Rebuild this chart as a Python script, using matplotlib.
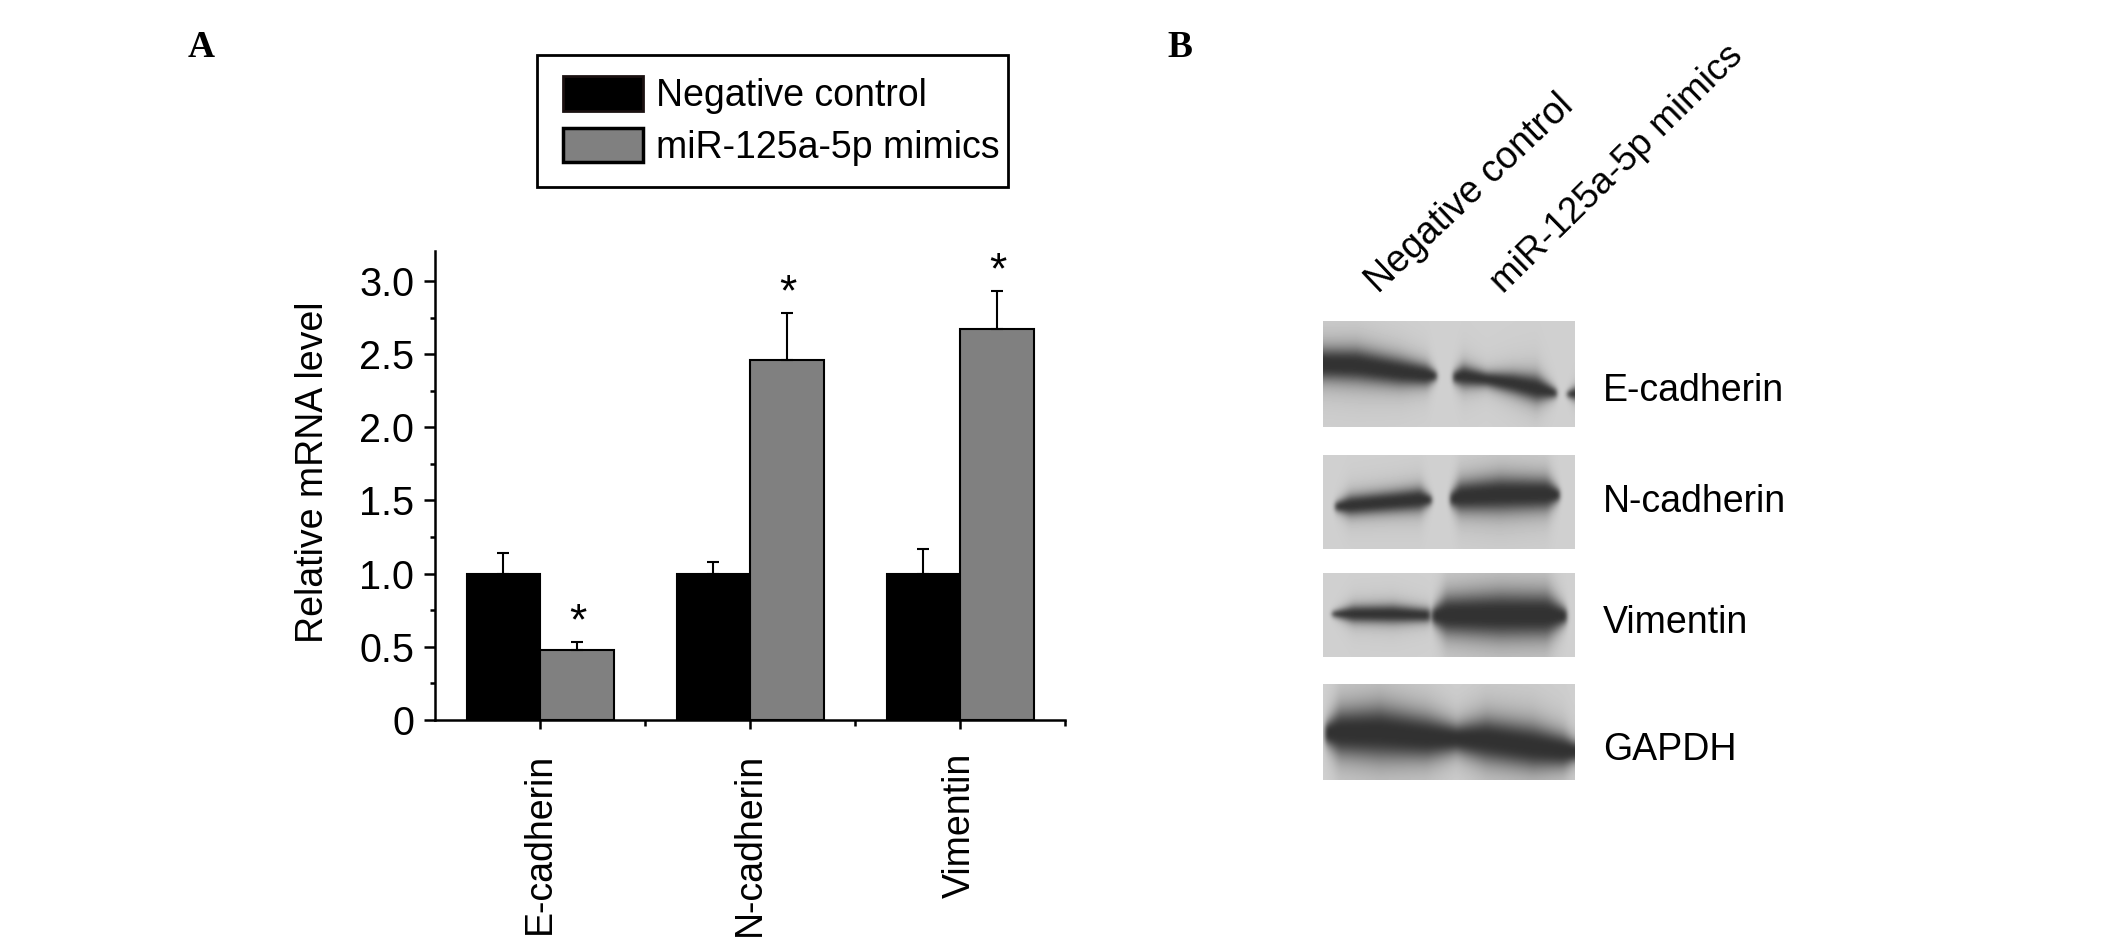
import numpy as np
import matplotlib
matplotlib.use("Agg")
import matplotlib.pyplot as plt
from matplotlib.patches import Patch, Rectangle

plt.rcParams['font.family'] = ['Liberation Sans', 'DejaVu Sans']

W, H = 2126, 947

# Panel A data
genes = ["E-cadherin", "N-cadherin", "Vimentin"]
control_vals = [1.0, 1.0, 1.0]
control_err = [0.14, 0.08, 0.17]
mimic_vals = [0.48, 2.46, 2.67]
mimic_err = [0.05, 0.32, 0.26]
y_ticks = [0, 0.5, 1.0, 1.5, 2.0, 2.5, 3.0]
y_labels = ["0", "0.5", "1.0", "1.5", "2.0", "2.5", "3.0"]
legend_labels = ["Negative control", "miR-125a-5p mimics"]

# Panel B labels
lane_labels = ["Negative control", "miR-125a-5p mimics"]
blot_labels = ["E-cadherin", "N-cadherin", "Vimentin", "GAPDH"]
blot_label_y = [391, 502, 623, 750]

# band outlines per blot as (x, centre y, half thickness) in pixels
ecad_bands = [
    [(-10, 195, 34), (60, 192, 36), (170, 195, 38), (300, 215, 32), (380, 225, 24), (410, 228, 8)],
    [(458, 232, 10), (490, 228, 24), (560, 238, 16), (640, 250, 24), (710, 265, 30), (770, 280, 8)],
    [(800, 283, 4), (835, 280, 18)],
]
ncad_bands = [
    [(105, 620, 8), (150, 616, 22), (280, 605, 24), (360, 598, 26), (395, 600, 8)],
    [(450, 598, 12), (480, 590, 34), (600, 583, 40), (740, 582, 36), (780, 585, 10)],
]
vim_bands = [
    [(95, 942, 4), (160, 942, 18), (280, 942, 20), (390, 946, 14)],
    [(395, 948, 14), (440, 945, 44), (600, 945, 52), (740, 945, 50), (800, 948, 14)],
]
gapdh_bands = [
    [(75, 1300, 20), (120, 1298, 52), (240, 1298, 60), (380, 1312, 50), (470, 1316, 32),
     (560, 1320, 50), (700, 1340, 50), (790, 1352, 38), (830, 1355, 20)],
]
blot_bands = [ecad_bands, ncad_bands, vim_bands, gapdh_bands]
blot_tops = [321, 455, 573, 684]
blot_bottoms = [427, 549, 657, 780]
blot_left, blot_right = 1323, 1575


def px_axes(x0, y0, x1, y1):
    return [x0 / W, 1 - y1 / H, (x1 - x0) / W, (y1 - y0) / H]


def render_blot(bands, top, bottom):
    # zoom crop started at (1300, 300) with 3x scale
    xs = (np.arange(blot_left, blot_right) + 0.5 - 1300) * 3
    ys = (np.arange(top, bottom) + 0.5 - 300) * 3
    X, Y = np.meshgrid(xs, ys)
    img = np.full(X.shape, 208.0)
    for band in bands:
        b = np.array(band, dtype=float)
        yc = np.interp(X, b[:, 0], b[:, 1])
        hh = np.interp(X, b[:, 0], b[:, 2]) * 1.3
        inside = (X >= b[0, 0]) & (X <= b[-1, 0])
        d = np.abs(Y - yc) / hh
        dark = 1 / (1 + d ** 3)
        img -= 160 * dark * inside
    img = np.clip(img, 50, 215)
    # soft smear
    k = np.array([1, 2, 4, 7, 10, 12, 10, 7, 4, 2, 1], dtype=float)
    k /= k.sum()
    pad = np.pad(img, 10, mode="edge")
    pad = np.apply_along_axis(lambda r: np.convolve(r, k, mode="same"), 0, pad)
    pad = np.apply_along_axis(lambda r: np.convolve(r, k, mode="same"), 1, pad)
    return pad[10:-10, 10:-10]


fig = plt.figure(figsize=(W / 100, H / 100), dpi=100, facecolor="white")

# Panel A
ax = fig.add_axes(px_axes(435, 251, 1065, 720))
x = np.arange(len(genes)) + 0.5
bw = 0.35
ax.bar(x - bw / 2, control_vals, bw, color="black", edgecolor="black", linewidth=1.5)
ax.bar(x + bw / 2, mimic_vals, bw, color="#808080", edgecolor="black", linewidth=1.5)
ax.errorbar(x - bw / 2, control_vals, yerr=[np.zeros(3), control_err], fmt="none",
            ecolor="black", elinewidth=1.5, capsize=4, capthick=1.5)
ax.errorbar(x + bw / 2, mimic_vals, yerr=[np.zeros(3), mimic_err], fmt="none",
            ecolor="black", elinewidth=1.5, capsize=4, capthick=1.5)
for xi, v, e in zip(x + bw / 2, mimic_vals, mimic_err):
    ax.annotate("*", (xi, v + e), xytext=(1, -1), textcoords="offset points",
                ha="center", va="bottom", fontsize=32)

ax.set_xlim(0, 3)
ax.set_ylim(0, 3.205)
for s in ["top", "right"]:
    ax.spines[s].set_visible(False)
for s in ["left", "bottom"]:
    ax.spines[s].set_linewidth(1.8)
ax.set_yticks(y_ticks)
ax.set_yticklabels(y_labels, fontsize=28.5)
ax.set_yticks(np.arange(0.25, 3.2, 0.5), minor=True)
ax.set_xticks(x)
ax.set_xticklabels(genes, fontsize=27, rotation=90)
ax.set_xticks([1, 2, 3], minor=True)
ax.tick_params(axis="y", which="major", length=8, width=1.8, pad=7)
ax.tick_params(axis="y", which="minor", length=3.5, width=1.8)
ax.tick_params(axis="x", which="major", length=6.5, width=1.8, pad=17)
ax.tick_params(axis="x", which="minor", length=4, width=1.8)
ax.set_ylabel("Relative mRNA level", fontsize=27, labelpad=20)
ax.yaxis.label.set_y(0.529)

# legend frame is drawn on its own, the text sits closer to its right edge than the swatch to the left
fig.add_artist(Rectangle((537 / W, 1 - 187 / H), 471 / W, 132 / H, transform=fig.transFigure,
                         facecolor="white", edgecolor="black", linewidth=2))
handles = [Patch(facecolor="black", edgecolor="#1a1010", linewidth=2),
           Patch(facecolor="#808080", edgecolor="black", linewidth=2.5)]
leg = fig.legend(handles, legend_labels, loc="upper left",
                 bbox_to_anchor=(563 / W, 1 - 76 / H), fontsize=27, frameon=False,
                 handlelength=2.13, handleheight=1.05, handletextpad=0.36,
                 labelspacing=0.36, borderpad=0, borderaxespad=0)

# Panel B
for bands, top, bottom, label, ly in zip(blot_bands, blot_tops, blot_bottoms, blot_labels, blot_label_y):
    bax = fig.add_axes(px_axes(blot_left, top, blot_right, bottom))
    bax.imshow(render_blot(bands, top, bottom), cmap="gray", vmin=0, vmax=255, aspect="auto")
    bax.axis("off")
    fig.text(1603 / W, 1 - ly / H, label, fontsize=27, va="center", ha="left")

fig.text(1378 / W, 1 - 294 / H, lane_labels[0], fontsize=27, rotation=43.5,
         rotation_mode="anchor", ha="left", va="baseline")
fig.text(1503 / W, 1 - 294 / H, lane_labels[1], fontsize=26.6, rotation=44.5,
         rotation_mode="anchor", ha="left", va="baseline")

fig.text(201 / W, 1 - 47 / H, "A", fontsize=27, fontweight="bold",
         family="Liberation Serif", ha="center", va="center")
fig.text(1180 / W, 1 - 47 / H, "B", fontsize=27, fontweight="bold",
         family="Liberation Serif", ha="center", va="center")

fig.savefig("out.png", dpi=100)
